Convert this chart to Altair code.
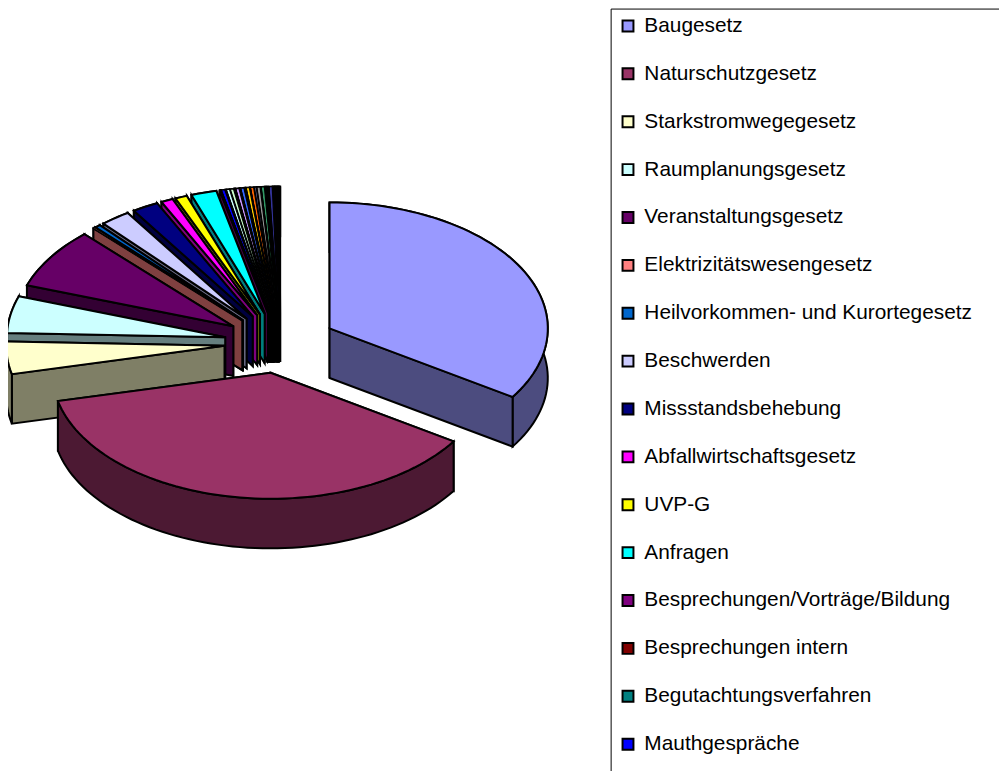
import math
import altair as alt

names = ["Baugesetz", "Naturschutzgesetz", "Starkstromwegegesetz", "Raumplanungsgesetz",
         "Veranstaltungsgesetz", "Elektrizitätswesengesetz", "Heilvorkommen- und Kurortegesetz",
         "Beschwerden", "Missstandsbehebung", "Abfallwirtschaftsgesetz", "UVP-G", "Anfragen",
         "Besprechungen/Vorträge/Bildung", "Besprechungen intern", "Begutachtungsverfahren",
         "Mauthgespräche"]
# shares (degrees of the full pie); later ones have no visible legend row
values = [123, 134, 15, 17, 28, 0.5, 1.5, 8, 7, 3.2, 3.2, 6.8,
          0.1, 0.1, 0.1, 0.9, 0.15, 0.85, 0.85, 0.1, 0.1, 0.1, 0.85, 0.2, 0.85, 0.15, 0.15,
          0.85, 0.05, 0.85, 0.5, 0.85, 0.05, 0.85, 0.2, 0.2, 0.2, 0.2, 0.85, 0.3,
          0.26, 0.26, 0.26, 0.26, 0.26]
colors = ["#9999FF", "#993366", "#FFFFCC", "#CCFFFF", "#660066", "#FF8080", "#0066CC", "#CCCCFF",
          "#000080", "#FF00FF", "#FFFF00", "#00FFFF", "#800080", "#800000", "#008080", "#0000FF",
          "#00CCFF", "#CCFFFF", "#CCFFCC", "#FFFF99", "#99CCFF", "#FF99CC", "#CC99FF", "#FFCC99",
          "#3366FF", "#33CCCC", "#99CC00", "#FFCC00", "#FF9900", "#FF6600", "#666699", "#969696",
          "#003366", "#339966", "#003300", "#333300", "#993300", "#993366", "#333399", "#333333",
          "#000000", "#000000", "#000000", "#000000", "#000000"]

CX, CY, RX, RY, DEPTH, EX, EY = 274.5, 334.5, 220, 127, 50, 56.5, 30.6
labels = names + [f"Weitere {i}" for i in range(17, len(values) + 1)]


def dark(c):
    return "#%02X%02X%02X" % tuple(int(int(c[i:i + 2], 16) / 2) for i in (1, 3, 5))


def pt(ax, ay, a, dy=0):
    t = math.radians(a)
    return [ax + RX * math.sin(t), ay - RY * math.cos(t) + dy]


def feat(coords, key, sw=2):
    return {"type": "Feature", "properties": {"key": key, "sw": sw},
            "geometry": {"type": "Polygon", "coordinates": [coords + [coords[0]]]}}


features = []
scale = 360 / sum(values)
starts = []
acc = 0
for v in values:
    starts.append(acc)
    acc += v * scale

order = list(range(len(values) - 1, 1, -1)) + [0, 1]
for i in order:
    a0, a1 = starts[i], starts[i] + values[i] * scale
    mid_deg = (a0 + a1) / 2
    mid = math.radians(mid_deg)
    ax = CX + EX * math.sin(mid)
    ay = CY - EY * math.cos(mid)
    n = max(2, int((a1 - a0) / 2) + 2)
    angs = [a0 + (a1 - a0) * k / (n - 1) for k in range(n)]
    side = labels[i] + " (Seite)"
    apex, apexb = [ax, ay], [ax, ay + DEPTH]
    rim = feat([pt(ax, ay, a) for a in angs] + [pt(ax, ay, a, DEPTH) for a in reversed(angs)], side)
    walls = [feat([apex, pt(ax, ay, a), pt(ax, ay, a, DEPTH), apexb], side)
             for a in ((a1, a0) if mid_deg > 180 else (a0, a1))]
    features += (walls + [rim]) if 90 < mid_deg < 270 else ([rim] + walls)
    features.append(feat([apex] + [pt(ax, ay, a) for a in angs], labels[i], 1.2 if values[i] < 1 else 2))

domain = labels + [l + " (Seite)" for l in labels]
crange = colors + [dark(c) for c in colors]

pie = alt.Chart(alt.Data(values=features)).mark_geoshape(stroke="black", strokeJoin="miter").encode(
    fill=alt.Fill("properties.key:N", scale=alt.Scale(domain=domain, range=crange),
                  legend=alt.Legend(values=names, title=None, orient="none", legendX=614.5, legendY=4.5,
                                    symbolType="square", symbolSize=121, symbolStrokeColor="black",
                                    symbolStrokeWidth=2, labelFont="Liberation Sans", labelFontSize=21,
                                    labelColor="black", rowPadding=26.27, labelOffset=6, padding=0,
                                    labelLimit=380, symbolLimit=0)),
    strokeWidth=alt.StrokeWidth("properties.sw:Q", scale=None)
).project(type="identity", scale=1, translate=[0, 0])

box = alt.Chart(alt.Data(values=[{"n": 1}])).mark_rect(fill="transparent", stroke="black", strokeWidth=1).encode(
    x=alt.value(608), x2=alt.value(1200), y=alt.value(-2), y2=alt.value(1200))

chart = alt.layer(box, pie).properties(
    width=999, height=763, padding=0, autosize=alt.AutoSizeParams(type="none"), background="white"
).configure_view(stroke=None)

chart.save("out.html", embed_options={"renderer": "svg", "actions": False})
